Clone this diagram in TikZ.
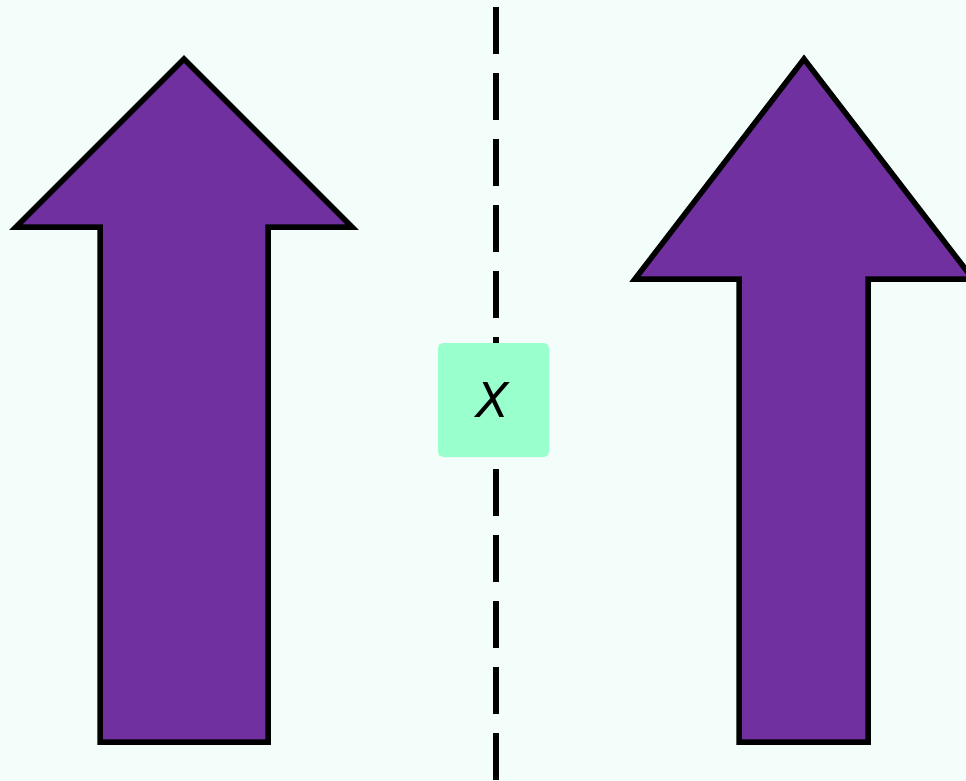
\documentclass[tikz,border=0pt]{standalone}
\usepackage{fontspec}
\setsansfont{DejaVu Sans}
\definecolor{bgc}{HTML}{F3FDF9}
\definecolor{arrowc}{HTML}{7030A0}
\definecolor{boxc}{HTML}{99FFCC}
\begin{document}
\begin{tikzpicture}[x=1pt,y=-1pt,
  bigarrow/.style={fill=arrowc,draw=black,line width=5.5pt,line join=miter},
  divider/.style={draw=black,line width=6pt,dash pattern=on 47pt off 19pt},
  xbox/.style={fill=boxc,draw=none,rounded corners=5pt,minimum width=111pt,minimum height=114pt,inner sep=0pt,font=\sffamily\fontsize{48}{52}\selectfont,text=black}]
\fill[bgc] (0,0) rectangle (966,781);
\useasboundingbox (0,0) rectangle (966,781);
% left arrow
\draw[bigarrow] (184,59) -- (352,227) -- (268,227) -- (268,742) -- (100,742) -- (100,227) -- (16,227) -- cycle;
% right arrow
\draw[bigarrow] (804,59) -- (973,279) -- (868,279) -- (868,742) -- (739,742) -- (739,279) -- (635,279) -- cycle;
% divider
\coordinate (dtop) at (496,7);
\coordinate (dbot) at (496,800);
\draw[divider] (dtop) -- (dbot);
% box
\node[xbox] (x) at (493.5,400) {\textit{X}};
\end{tikzpicture}
\end{document}
